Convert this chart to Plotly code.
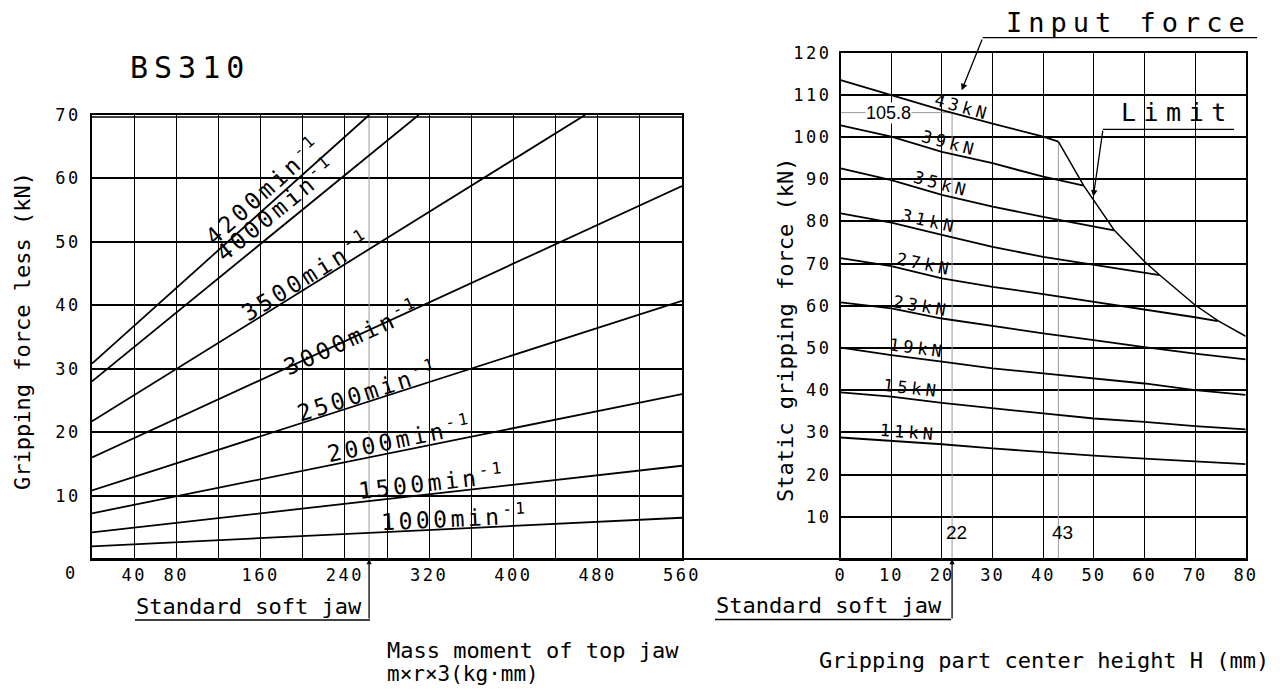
import plotly.graph_objects as go

W, H = 1285, 689
MONO = "DejaVu Sans Mono"
SANS = "Liberation Sans"

# ---------------- data: left chart (gripping force loss) ----------------
speeds = ["4200", "4000", "3500", "3000", "2500", "2000", "1500", "1000"]
loss_x = [[0, 263], [0, 310], [0, 468], [0, 560], [0, 560], [0, 560], [0, 560], [0, 560]]
loss_y = [[30.8, 70], [28.0, 70], [21.7, 70], [16.0, 58.8], [10.8, 40.7],
          [7.2, 26.0], [4.2, 14.7], [2.0, 6.5]]
speed_label_x = [162, 175, 203, 247, 262, 292, 323, 345]
speed_label_y = [58.2, 55.3, 44.8, 35.1, 26.7, 19.0, 12.3, 6.7]
speed_label_angle = [-41.9, -39.1, -31.8, -24.6, -17.7, -11.6, -6.5, -2.8]
std_jaw_moment = 263
left_xticks = list(range(0, 561, 40))
left_xticklabels = ["", "40", "80", "", "160", "", "240", "", "320", "", "400", "", "480", "", "560"]
left_yticks = list(range(0, 71, 10))
left_yticklabels = ["", "10", "20", "30", "40", "50", "60", "70"]

# ---------------- data: right chart (static gripping force) ----------------
forces = ["43", "39", "35", "31", "27", "23", "19", "15", "11"]
grip_x = [
    [0, 10, 20, 30, 40, 43],
    [0, 10, 20, 30, 40, 48],
    [0, 10, 20, 30, 40, 50, 54],
    [0, 10, 20, 30, 40, 50, 60, 63],
    [0, 10, 20, 30, 40, 50, 60, 70, 74.5],
    [0, 10, 20, 30, 40, 50, 60, 70, 80],
    [0, 10, 20, 30, 40, 50, 60, 70, 80],
    [0, 10, 20, 30, 40, 50, 60, 70, 80],
    [0, 10, 20, 30, 40, 50, 60, 70, 80],
]
grip_y = [
    [113.5, 110.0, 106.4, 103.2, 100.1, 98.9],
    [102.8, 100.1, 96.5, 93.8, 90.6, 88.5],
    [92.6, 89.8, 86.3, 83.5, 81.1, 78.8, 77.9],
    [81.9, 79.7, 76.8, 74.0, 71.6, 69.8, 68.0, 67.3],
    [71.3, 69.4, 66.5, 64.5, 62.8, 61.0, 59.2, 57.3, 56.4],
    [60.8, 59.4, 57.0, 55.2, 53.5, 51.9, 50.2, 48.7, 47.3],
    [50.1, 48.3, 46.8, 45.2, 44.0, 42.8, 41.6, 40.0, 38.9],
    [39.5, 38.5, 37.0, 35.7, 34.5, 33.3, 32.5, 31.5, 30.7],
    [28.8, 28.0, 27.2, 26.2, 25.3, 24.5, 23.8, 23.1, 22.5],
]
force_label_x = [24.1, 21.5, 20.0, 17.5, 16.6, 16.0, 15.2, 13.9, 13.3]
force_label_y = [107.2, 98.5, 88.9, 80.0, 69.9, 60.0, 50.1, 40.5, 30.1]
force_label_angle = [16, 15, 15, 13, 11.5, 10, 7.5, 6.5, 4.5]
limit_x = [43, 48, 50, 54, 60, 63, 70, 74.5, 80]
limit_y = [98.9, 88.5, 85.0, 78.0, 70.5, 67.3, 60.2, 56.5, 52.8]
std_jaw_height = 22
max_height = 43
ref_force = 105.8
right_xticks = list(range(0, 81, 10))
right_xticklabels = [str(v) for v in right_xticks]
right_yticks = list(range(0, 121, 10))
right_yticklabels = [""] + [str(v) for v in right_yticks[1:]]

# ---------------- layout geometry (pixels) ----------------
L_X = (92, 682)
L_Y = (115, 559)
R_X = (840.7, 1245.7)
R_Y = (52.7, 559)


def px(x):
    return x / W


def py(y):
    return 1 - y / H


def sp(text, ls):
    return f"<span style='letter-spacing:{ls}px'>{text}</span>"


fig = go.Figure()

# thin reference lines
fig.add_trace(go.Scatter(x=[std_jaw_moment, std_jaw_moment], y=[0, 70], mode="lines",
                         line=dict(color="#9a9a9a", width=1), xaxis="x", yaxis="y", hoverinfo="skip"))
fig.add_trace(go.Scatter(x=[std_jaw_height, std_jaw_height], y=[0, ref_force], mode="lines",
                         line=dict(color="#9a9a9a", width=1), xaxis="x2", yaxis="y2", hoverinfo="skip"))
fig.add_trace(go.Scatter(x=[max_height, max_height], y=[0, limit_y[0]], mode="lines",
                         line=dict(color="#9a9a9a", width=1), xaxis="x2", yaxis="y2", hoverinfo="skip"))
fig.add_trace(go.Scatter(x=[0, std_jaw_height], y=[ref_force, ref_force], mode="lines",
                         line=dict(color="#9a9a9a", width=1), xaxis="x2", yaxis="y2", hoverinfo="skip"))

# left curves
for xs, ys in zip(loss_x, loss_y):
    fig.add_trace(go.Scatter(x=xs, y=ys, mode="lines", line=dict(color="black", width=1.8),
                             xaxis="x", yaxis="y", hoverinfo="skip"))
# right curves
for xs, ys in zip(grip_x, grip_y):
    fig.add_trace(go.Scatter(x=xs, y=ys, mode="lines", line=dict(color="black", width=1.8),
                             xaxis="x2", yaxis="y2", hoverinfo="skip"))
fig.add_trace(go.Scatter(x=limit_x, y=limit_y, mode="lines", line=dict(color="black", width=1.5),
                         xaxis="x2", yaxis="y2", hoverinfo="skip"))

tickfont = dict(family=MONO, size=17, color="black")
axis_common = dict(showgrid=True, gridcolor="black", showline=True, linecolor="black",
                   mirror=True, zeroline=False, ticks="", tickmode="array", tickfont=tickfont,
                   fixedrange=True, automargin=False)

fig.update_layout(
    width=W, height=H, margin=dict(l=0, r=0, t=0, b=0, autoexpand=False),
    paper_bgcolor="white", plot_bgcolor="white", showlegend=False,
    xaxis=dict(axis_common, domain=[px(L_X[0]), px(L_X[1])], range=[0, 560], anchor="y",
               tickvals=left_xticks, ticktext=[sp(t, 2.5) for t in left_xticklabels],
               gridwidth=1.3, linewidth=1.5, ticklabelstandoff=0),
    yaxis=dict(axis_common, domain=[py(L_Y[1]), py(L_Y[0])], range=[0, 70], anchor="x",
               tickvals=left_yticks, ticktext=[sp(t, 2.5) for t in left_yticklabels],
               gridwidth=2.2, linewidth=1.5, ticklabelstandoff=6),
    xaxis2=dict(axis_common, domain=[px(R_X[0]), px(R_X[1])], range=[0, 80], anchor="y2",
                tickvals=right_xticks, ticktext=[sp(t, 2) for t in right_xticklabels],
                gridwidth=1.3, linewidth=1.5, ticklabelstandoff=0),
    yaxis2=dict(axis_common, domain=[py(R_Y[1]), py(R_Y[0])], range=[0, 120], anchor="x2",
                tickvals=right_yticks, ticktext=[sp(t, 2.5) for t in right_yticklabels],
                gridwidth=2.2, linewidth=1.5, ticklabelstandoff=4),
)

shapes = []
# top double line of left chart
shapes.append(dict(type="line", xref="x", yref="paper", x0=0, x1=560, y0=py(L_Y[0] + 2), y1=py(L_Y[0] + 2),
                   line=dict(color="black", width=1.5)))
# continuous base line
shapes.append(dict(type="line", xref="paper", yref="paper", x0=px(L_X[0]), x1=px(R_X[1]),
                   y0=py(L_Y[1]), y1=py(L_Y[1]), line=dict(color="black", width=2)))
# underlines of callouts
shapes.append(dict(type="line", xref="paper", yref="paper", x0=px(135), x1=px(370),
                   y0=py(620), y1=py(620), line=dict(color="black", width=1.3)))
shapes.append(dict(type="line", xref="paper", yref="paper", x0=px(715), x1=px(951),
                   y0=py(619.5), y1=py(619.5), line=dict(color="black", width=1.3)))
shapes.append(dict(type="line", xref="paper", yref="paper", x0=px(982.7), x1=px(1257),
                   y0=py(37.7), y1=py(37.7), line=dict(color="black", width=1.3)))
shapes.append(dict(type="line", xref="paper", yref="paper", x0=px(1103), x1=px(1234),
                   y0=py(129.3), y1=py(129.3), line=dict(color="black", width=1.3)))
fig.update_layout(shapes=shapes)

ann = []
# curve labels, left
for s, x, y, a in zip(speeds, speed_label_x, speed_label_y, speed_label_angle):
    ann.append(dict(xref="x", yref="y", x=x, y=y, text=sp(f"{s}min<sup>-1</sup>", 3.5), showarrow=False,
                    xanchor="center", yanchor="middle",
                    textangle=a, font=dict(family=MONO, size=23, color="black")))
# curve labels, right
for f, x, y, a in zip(forces, force_label_x, force_label_y, force_label_angle):
    ann.append(dict(xref="x2", yref="y2", x=x, y=y, text=sp(f"{f}kN", 4), showarrow=False,
                    xanchor="center", yanchor="middle",
                    textangle=a, font=dict(family=MONO, size=17, color="black")))

# 105.8 label
ann.append(dict(xref="x2", yref="y2", x=9.5, y=ref_force, text=f"{ref_force}", showarrow=False,
                xanchor="center", yanchor="middle",
                bgcolor="white", borderpad=0, font=dict(family=SANS, size=18, color="black")))
# 22 / 43 labels
for v in [std_jaw_height, max_height]:
    ann.append(dict(xref="x2", yref="y2", x=v, y=6.4, text=f"{v}", showarrow=False, xshift=4,
                    xanchor="center", yanchor="middle",
                    font=dict(family=SANS, size=19, color="black")))


def label(x, y, text, size, xanchor="left", angle=0):
    return dict(xref="paper", yref="paper", x=px(x), y=py(y), text=text, showarrow=False,
                xanchor=xanchor, yanchor="middle", textangle=angle,
                font=dict(family=MONO, size=size, color="black"))


# "0" tick of the left chart
ann.append(label(71, 573, sp("0", 2), 17, "center"))
# title
ann.append(label(128, 67.5, sp("BS310", 6), 30))
# axis titles
ann.append(label(22, 331, "Gripping force less (kN)", 22, "center", -90))
ann.append(label(786, 330, "Static gripping force (kN)", 22, "center", -90))
ann.append(label(385, 650, "Mass moment of top jaw", 22))
ann.append(label(385, 674, "m×r×3(kg·mm)", 21))
ann.append(label(817, 660, "Gripping part center height H (mm)", 22))
# standard soft jaw callouts
ann.append(label(134, 606, "Standard soft jaw", 22))
ann.append(label(714, 605, "Standard soft jaw", 22))
ann.append(dict(xref="x", yref="y", x=std_jaw_moment, y=0, ax=0, ay=61, text="", showarrow=True,
                arrowhead=2, arrowsize=0.8, arrowwidth=1.3, arrowcolor="black"))
ann.append(dict(xref="x2", yref="y2", x=std_jaw_height, y=0, ax=0, ay=61, text="", showarrow=True,
                arrowhead=2, arrowsize=0.8, arrowwidth=1.3, arrowcolor="black"))
# Input force / Limit callouts
ann.append(label(1004, 23, sp("Input force", 6), 27))
ann.append(dict(xref="x2", yref="y2", x=23.9, y=111.1, ax=21, ay=-52.3, text="", showarrow=True,
                arrowhead=2, arrowsize=1, arrowwidth=1.3, arrowcolor="black"))
ann.append(label(1119, 113, sp("Limit", 7.5), 25))
ann.append(dict(xref="x2", yref="y2", x=49.9, y=85.9, ax=9.7, ay=-67.4, text="", showarrow=True,
                arrowhead=2, arrowsize=1, arrowwidth=1.3, arrowcolor="black"))

fig.update_layout(annotations=ann)

fig.write_html("out.html", config={"displayModeBar": False},
               post_script="document.body.style.margin='0';document.body.style.overflow='hidden';")
